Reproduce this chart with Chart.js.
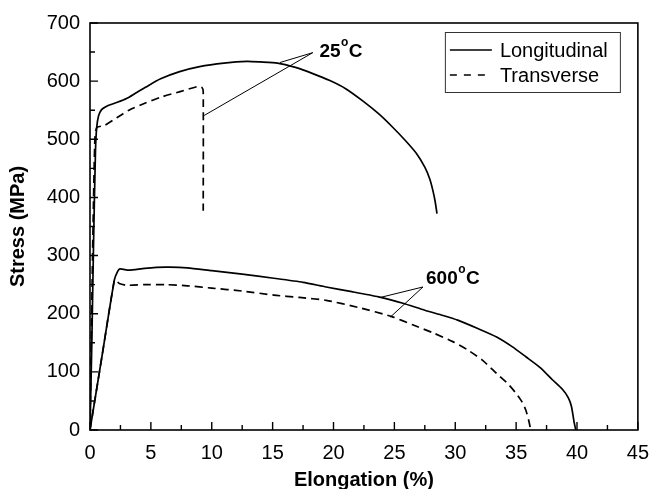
<!DOCTYPE html>
<html>
<head>
<meta charset="utf-8">
<script src="https://cdn.jsdelivr.net/npm/chart.js@4/dist/chart.umd.min.js"></script>
<style>
  html, body { margin: 0; padding: 0; background: #fff; }
  #wrap { width: 660px; height: 489px; }
</style>
</head>
<body>
<div id="wrap"><canvas id="stressChart" width="660" height="489"></canvas></div>
<script>
// Elongation (%) / Stress (MPa)
const long25X = [0, 0.15, 0.3, 0.45, 0.55, 0.7, 0.95, 1.3, 1.6, 2.3, 3.0, 3.8, 4.6, 5.8, 7.3, 9.0, 11.0, 12.9, 14.0, 15.4, 16.8, 18.3, 19.7, 21.0, 22.4, 23.7, 24.8, 25.9, 26.8, 27.5, 27.9, 28.15, 28.35, 28.5];
const long25Y = [0, 150, 330, 480, 520, 540, 551, 556, 559, 564, 570, 580, 590, 604, 616, 625, 631, 634, 633, 631, 624, 613, 601, 587, 566, 544, 522, 498, 476, 452, 432, 413, 393, 372];

const trans25X = [0, 0.1, 0.25, 0.4, 0.55, 1.2, 2.2, 3.2, 4.5, 5.9, 7.4, 8.9, 9.2, 9.3, 9.3];
const trans25Y = [0, 150, 350, 500, 520, 524, 537, 550, 562, 573, 582, 591, 589, 582, 377];

const long600X = [0, 1.0, 2.0, 2.25, 2.45, 3.2, 4.5, 6.2, 8.0, 10.0, 12.5, 15.1, 17.5, 19.4, 21.5, 23.7, 25.7, 27.5, 29.0, 30.2, 31.8, 33.4, 34.7, 35.8, 37.0, 38.0, 38.8, 39.3, 39.55, 39.75, 39.9];
const long600Y = [0, 129, 258, 272, 277, 275, 278, 280, 279, 274, 268, 261, 254, 246, 238, 229, 218, 206, 197, 189, 175, 160, 143, 126, 107, 86, 70, 55, 40, 15, 0];

const trans600X = [0, 1.0, 2.0, 2.15, 2.4, 3.0, 4.5, 6.2, 8.0, 10.0, 12.5, 15.1, 17.2, 19.4, 22.0, 24.8, 26.5, 28.3, 29.8, 31.0, 32.3, 33.4, 34.3, 35.0, 35.5, 35.8, 36.05, 36.2];
const trans600Y = [0, 129, 258, 257, 252, 249, 250, 250, 248, 244, 239, 232, 228, 223, 211, 195, 181, 166, 152, 138, 119, 97, 80, 63, 48, 34, 15, 0];

// annotation labels with their leader lines (data coords)
const notes = [
  { text: '25', at: [18.84, 651], from: [18.3, 649], to: [[15.6, 632], [9.38, 541]] },
  { text: '600', at: [27.6, 261], from: [27.35, 246], to: [[23.85, 228], [24.66, 194]] }
];

const xTicks = [0, 5, 10, 15, 20, 25, 30, 35, 40, 45];
const yTicks = [0, 100, 200, 300, 400, 500, 600, 700];

const seriesNames = ['Longitudinal', 'Transverse'];

const FONT = '"Liberation Sans", Arial, sans-serif';

function pts(xs, ys) {
  return xs.map((x, i) => ({ x, y: ys[i] }));
}

function curve(label, xs, ys, dashed) {
  return {
    label,
    data: pts(xs, ys),
    borderColor: '#000',
    borderWidth: 1.7,
    borderDash: dashed ? [8, 5] : [],
    pointRadius: 0,
    tension: 0.2,
    fill: false
  };
}

// frame, inward ticks, legend and annotations
const decor = {
  id: 'decor',
  afterDraw(chart) {
    const ctx = chart.ctx;
    const xs = chart.scales.x, ys = chart.scales.y;
    const a = chart.chartArea;
    ctx.save();
    ctx.strokeStyle = '#000';
    ctx.fillStyle = '#000';

    // frame
    ctx.lineWidth = 1.6;
    ctx.strokeRect(a.left, a.top, a.right - a.left, a.bottom - a.top);

    // ticks (major + minor halfway)
    ctx.lineWidth = 1.4;
    ctx.beginPath();
    for (let i = 0; i < xTicks.length; i++) {
      const px = xs.getPixelForValue(xTicks[i]);
      ctx.moveTo(px, a.bottom); ctx.lineTo(px, a.bottom - 8);
      if (i < xTicks.length - 1) {
        const mx = xs.getPixelForValue((xTicks[i] + xTicks[i + 1]) / 2);
        ctx.moveTo(mx, a.bottom); ctx.lineTo(mx, a.bottom - 5);
      }
    }
    for (let i = 0; i < yTicks.length; i++) {
      const py = ys.getPixelForValue(yTicks[i]);
      ctx.moveTo(a.left, py); ctx.lineTo(a.left + 8, py);
      if (i < yTicks.length - 1) {
        const my = ys.getPixelForValue((yTicks[i] + yTicks[i + 1]) / 2);
        ctx.moveTo(a.left, my); ctx.lineTo(a.left + 5, my);
      }
    }
    ctx.stroke();

    // legend box
    const lx = a.right - 193, ly = a.top + 9, lw = 175, lh = 60;
    ctx.lineWidth = 1;
    ctx.strokeStyle = '#333';
    ctx.strokeRect(lx + 0.5, ly + 0.5, lw, lh);
    ctx.strokeStyle = '#000';
    ctx.font = '20px ' + FONT;
    ctx.textBaseline = 'middle';
    ctx.textAlign = 'left';
    seriesNames.forEach((name, i) => {
      const y = ly + 18 + i * 25;
      ctx.lineWidth = 1.6;
      ctx.setLineDash(i === 1 ? [7, 7] : []);
      ctx.beginPath();
      ctx.moveTo(lx + 5, y); ctx.lineTo(lx + 47, y);
      ctx.stroke();
      ctx.setLineDash([]);
      ctx.fillText(name, lx + 55, y + 1);
    });

    // annotations
    notes.forEach(n => {
      ctx.lineWidth = 1;
      ctx.beginPath();
      n.to.forEach(t => {
        ctx.moveTo(xs.getPixelForValue(n.from[0]), ys.getPixelForValue(n.from[1]));
        ctx.lineTo(xs.getPixelForValue(t[0]), ys.getPixelForValue(t[1]));
      });
      ctx.stroke();
      const tx = xs.getPixelForValue(n.at[0]);
      const ty = ys.getPixelForValue(n.at[1]);
      ctx.font = 'bold 19px ' + FONT;
      ctx.textBaseline = 'alphabetic';
      ctx.fillText(n.text, tx, ty + 6);
      const w = ctx.measureText(n.text).width;
      ctx.font = 'bold 12px ' + FONT;
      ctx.fillText('o', tx + w + 0.5, ty - 5);
      const w2 = ctx.measureText('o').width;
      ctx.font = 'bold 19px ' + FONT;
      ctx.fillText('C', tx + w + w2 + 1, ty + 6);
    });
    ctx.restore();
  }
};

new Chart(document.getElementById('stressChart'), {
  type: 'line',
  data: {
    datasets: [
      curve('Longitudinal 25', long25X, long25Y, false),
      curve('Transverse 25', trans25X, trans25Y, true),
      curve('Longitudinal 600', long600X, long600Y, false),
      curve('Transverse 600', trans600X, trans600Y, true)
    ]
  },
  options: {
    responsive: false,
    animation: false,
    layout: { padding: { left: 0, right: 13, top: 23, bottom: 0 } },
    plugins: { legend: { display: false }, tooltip: { enabled: false } },
    scales: {
      x: {
        type: 'linear',
        min: 0, max: 45,
        afterBuildTicks: s => { s.ticks = xTicks.map(v => ({ value: v })); },
        afterFit: s => { s.height = 59; },
        grid: { display: false, drawTicks: false },
        border: { display: false },
        ticks: { color: '#000', padding: 11, font: { family: FONT, size: 20 } },
        title: {
          display: true, text: 'Elongation (%)', color: '#000',
          padding: { top: 0, bottom: -3 },
          font: { family: FONT, size: 20, weight: 'bold' }
        }
      },
      y: {
        type: 'linear',
        min: 0, max: 700,
        afterBuildTicks: s => { s.ticks = yTicks.map(v => ({ value: v })); },
        afterFit: s => { s.width = 90; },
        grid: { display: false, drawTicks: false },
        border: { display: false },
        ticks: { color: '#000', padding: 10, font: { family: FONT, size: 20 } },
        title: {
          display: true, text: 'Stress (MPa)', color: '#000',
          padding: { top: 6, bottom: 0 },
          font: { family: FONT, size: 20, weight: 'bold' }
        }
      }
    }
  },
  plugins: [decor]
});
</script>
</body>
</html>
